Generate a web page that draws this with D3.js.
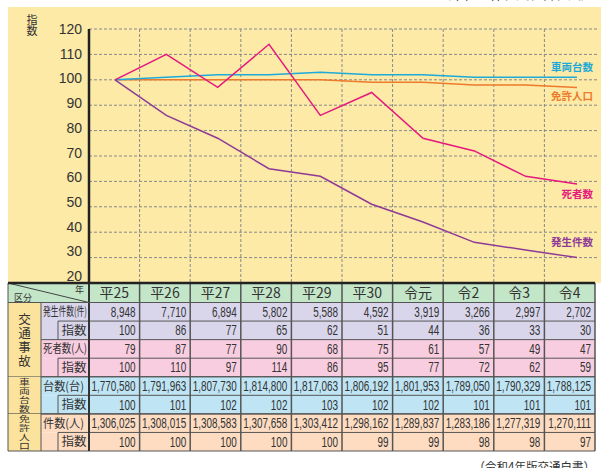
<!DOCTYPE html>
<html>
<head>
<meta charset="utf-8">
<script src="https://cdn.jsdelivr.net/npm/d3@7"></script>
<style>
  body { margin: 0; background: #fff; }
  svg { display: block; font-family: "Noto Sans CJK JP", "Noto Sans", sans-serif; }
  .num { font-family: "Liberation Sans", sans-serif; }
</style>
</head>
<body>
<svg id="root" width="601" height="468"></svg>
<script>
//Chart data
const years = ["平25", "平26", "平27", "平28", "平29", "平30", "令元", "令2", "令3", "令4"];
const accidents = [8948, 7710, 6894, 5802, 5588, 4592, 3919, 3266, 2997, 2702];
const accidentIdx = [100, 86, 77, 65, 62, 51, 44, 36, 33, 30];
const deaths = [79, 87, 77, 90, 68, 75, 61, 57, 49, 47];
const deathIdx = [100, 110, 97, 114, 86, 95, 77, 72, 62, 59];
const vehicles = [1770580, 1791963, 1807730, 1814800, 1817063, 1806192, 1801953, 1789050, 1790329, 1788125];
const vehicleIdx = [100, 101, 102, 102, 103, 102, 102, 101, 101, 101];
const licenses = [1306025, 1308015, 1308583, 1307658, 1303412, 1298162, 1289837, 1283186, 1277319, 1270111];
const licenseIdx = [100, 100, 100, 100, 100, 99, 99, 98, 98, 97];
const yTicks = [20, 30, 40, 50, 60, 70, 80, 90, 100, 110, 120];

const svg = d3.select("#root");
const fmt = d3.format(",");

//Scales
const y = d3.scaleLinear().domain([20, 120]).range([283, 29]);
const yLab = d3.scaleLinear().domain([20, 120]).range([276, 29]); //labels sit a bit tighter than the grid
const xPt = d3.scalePoint().domain(years).range([115, 577]);
const xCol = d3.scaleBand().domain(years).range([89, 595]);

//Yellow panel
svg.append("rect").attr("x", 8).attr("y", 7).attr("width", 593).attr("height", 276).attr("fill", "#fdeaa7");

//Top note (cut off at top edge)
svg.append("text").attr("x", 594).attr("y", -1).attr("text-anchor", "end")
  .attr("font-size", 13).attr("fill", "#333").text("（単位：件、人、台、人）");

//Gridlines
svg.append("g").selectAll("line").data(yTicks.filter(d => d > 20)).join("line")
  .attr("x1", 89).attr("x2", 597).attr("y1", d => y(d)).attr("y2", d => y(d))
  .attr("stroke", "#888").attr("stroke-dasharray", "3,2");
svg.append("g").selectAll("line").data(years.slice(1)).join("line")
  .attr("x1", d => xCol(d)).attr("x2", d => xCol(d)).attr("y1", 29).attr("y2", 283)
  .attr("stroke", "#888").attr("stroke-dasharray", "3,2");

//Y tick labels
svg.append("g").selectAll("text").data(yTicks).join("text")
  .attr("x", 82).attr("y", d => yLab(d) + 5).attr("text-anchor", "end")
  .attr("font-family", "Liberation Sans, sans-serif").attr("font-size", 14).attr("fill", "#333")
  .text(d => d);

//Y axis line
svg.append("line").attr("x1", 89).attr("x2", 89).attr("y1", 29).attr("y2", 284)
  .attr("stroke", "#222").attr("stroke-width", 2.5);

//指数 label
svg.append("g").selectAll("text").data(["指", "数"]).join("text")
  .attr("x", 32).attr("y", (d, i) => 23.5 + i * 11.5).attr("text-anchor", "middle")
  .attr("font-size", 11).attr("fill", "#333").text(d => d);

//Lines
const series = [
  {name: "免許人口", values: licenseIdx, color: "#ee7a2b", ly: 100},
  {name: "車両台数", values: vehicleIdx, color: "#1eaad8", ly: 71},
  {name: "死者数", values: deathIdx, color: "#e6197e", ly: 198},
  {name: "発生件数", values: accidentIdx, color: "#8e3a96", ly: 246}
];
const line = d3.line().x((d, i) => xPt(years[i])).y(d => y(d));
svg.append("g").selectAll("path").data(series).join("path")
  .attr("d", d => line(d.values)).attr("fill", "none")
  .attr("stroke", d => d.color).attr("stroke-width", 1.5);
svg.append("g").selectAll("text").data(series).join("text")
  .attr("x", 593).attr("y", d => d.ly).attr("text-anchor", "end")
  .attr("font-size", 10.5).attr("font-weight", "bold").attr("fill", d => d.color)
  .text(d => d.name);

//Table
const rows = [
  {label: "発生件数(件)", values: accidents.map(fmt), bg: "#d9d6ec"},
  {label: "指数", values: accidentIdx, bg: "#d9d6ec", idx: true},
  {label: "死者数(人)", values: deaths, bg: "#f9cde0"},
  {label: "指数", values: deathIdx, bg: "#f9cde0", idx: true},
  {label: "台数(台)", values: vehicles.map(fmt), bg: "#bfe5f5"},
  {label: "指数", values: vehicleIdx, bg: "#bfe5f5", idx: true},
  {label: "件数(人)", values: licenses.map(fmt), bg: "#fddcc2"},
  {label: "指数", values: licenseIdx, bg: "#fddcc2", idx: true}
];
const yRow = d3.scaleBand().domain(d3.range(rows.length)).range([302.5, 451]);
const rh = yRow.bandwidth();
const table = svg.append("g");

//Header
table.append("rect").attr("x", 8).attr("y", 283).attr("width", 587).attr("height", 19.5).attr("fill", "#c3e5c8");
table.append("line").attr("x1", 8).attr("x2", 89).attr("y1", 283).attr("y2", 302.5).attr("stroke", "#444");
table.append("text").attr("x", 84).attr("y", 293).attr("text-anchor", "end").attr("font-size", 9).attr("fill", "#333").text("年");
table.append("text").attr("x", 14).attr("y", 300.5).attr("font-size", 9).attr("fill", "#333").text("区分");
table.append("g").selectAll("text").data(years).join("text")
  .attr("x", d => xCol(d) + xCol.bandwidth() / 2).attr("y", 298).attr("text-anchor", "middle")
  .attr("font-size", 14).attr("fill", "#333").text(d => d);

//Row backgrounds
table.append("g").selectAll("rect").data(rows).join("rect")
  .attr("x", 41).attr("y", (d, i) => yRow(i)).attr("width", 554).attr("height", rh)
  .attr("fill", d => d.bg);

//Group column
const groups = [
  {chars: "交通事故", from: 0, to: 4, size: 12.5, step: 14, sy: 1},
  {chars: "車両台数", from: 4, to: 6, size: 9.5, step: 9, sy: 0.88},
  {chars: "免許人口", from: 6, to: 8, size: 9.5, step: 9, sy: 0.88}
];
groups.forEach(g => {
  const top = yRow(g.from), bottom = yRow(g.to - 1) + rh;
  table.append("rect").attr("x", 8).attr("y", top).attr("width", 33).attr("height", bottom - top)
    .attr("fill", "#fce39d");
  const start = (top + bottom) / 2 - g.chars.length * g.step / 2;
  table.append("g").selectAll("text").data(Array.from(g.chars)).join("text")
    .attr("transform", (d, i) => `translate(24.5,${start + (i + 1) * g.step - g.step * 0.14}) scale(${g.sy < 1 ? 1.15 : 1},${g.sy})`)
    .attr("text-anchor", "middle").attr("font-size", g.size).attr("fill", "#333").text(d => d);
  table.append("line").attr("x1", 8).attr("x2", 595).attr("y1", bottom).attr("y2", bottom)
    .attr("stroke", "#555").attr("stroke-width", 1.2);
});

//Row labels and values
rows.forEach((r, i) => {
  const top = yRow(i);
  if (r.idx) {
    table.append("line").attr("x1", 58).attr("x2", 595).attr("y1", top).attr("y2", top).attr("stroke", "#555");
    table.append("line").attr("x1", 58).attr("x2", 58).attr("y1", top).attr("y2", top + rh).attr("stroke", "#555");
    table.append("text").attr("x", 74).attr("y", top + rh / 2 + 4.5).attr("text-anchor", "middle")
      .attr("font-size", 12.5).attr("fill", "#333").text(r.label);
  } else {
    table.append("line").attr("x1", 41).attr("x2", 595).attr("y1", top).attr("y2", top).attr("stroke", "#555");
    table.append("text").attr("x", 43).attr("y", top + rh / 2 + 4.5)
      .attr("font-size", 12).attr("fill", "#333")
      .attr("textLength", i < 4 ? 44 : 41).attr("lengthAdjust", "spacingAndGlyphs").text(r.label);
  }
  //numbers are condensed horizontally like the original print
  table.append("g").selectAll("text").data(r.values).join("text")
    .attr("class", "num")
    .attr("transform", (d, j) => `translate(${xCol(years[j]) + xCol.bandwidth() - 4},${top + rh / 2 + 5}) scale(0.71,1)`)
    .attr("text-anchor", "end").attr("font-size", 14).attr("fill", "#333").text(d => d);
});

//Vertical lines
table.append("g").selectAll("line").data(years.slice(1).concat(["end"])).join("line")
  .attr("x1", d => d === "end" ? 595 : xCol(d)).attr("x2", d => d === "end" ? 595 : xCol(d))
  .attr("y1", 283).attr("y2", 451).attr("stroke", "#555").attr("stroke-width", 1.5);
table.append("line").attr("x1", 89).attr("x2", 89).attr("y1", 283).attr("y2", 451).attr("stroke", "#333").attr("stroke-width", 2);
table.append("line").attr("x1", 41).attr("x2", 41).attr("y1", 302.5).attr("y2", 451).attr("stroke", "#555");
table.append("line").attr("x1", 8).attr("x2", 8).attr("y1", 283).attr("y2", 451).attr("stroke", "#555");
table.append("line").attr("x1", 8).attr("x2", 595).attr("y1", 302.5).attr("y2", 302.5).attr("stroke", "#555");
table.append("line").attr("x1", 8).attr("x2", 595).attr("y1", 283).attr("y2", 283).attr("stroke", "#222").attr("stroke-width", 2.5);

//Source
svg.append("text").attr("x", 595).attr("y", 471).attr("text-anchor", "end")
  .attr("font-size", 11.5).attr("fill", "#333").text("（令和4年版交通白書）");
</script>
</body>
</html>
